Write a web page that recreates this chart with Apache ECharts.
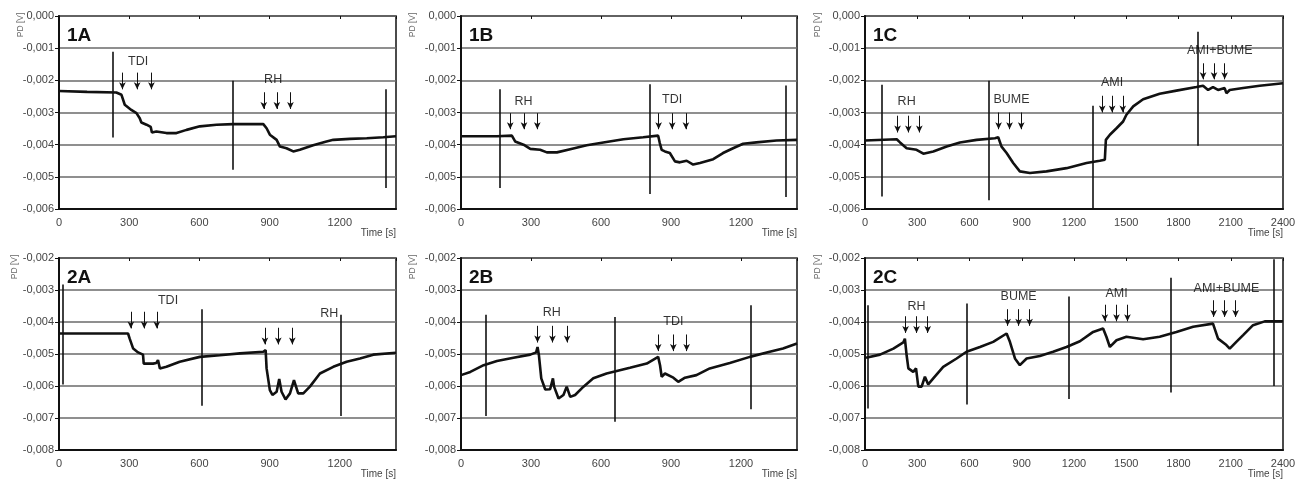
<!DOCTYPE html>
<html>
<head>
<meta charset="utf-8">
<script src="https://cdn.jsdelivr.net/npm/echarts@6/dist/echarts.min.js"></script>
<style>
html,body{margin:0;padding:0;background:#fff;}
#chart{width:1308px;height:482px;}
</style>
</head>
<body>
<div id="chart"></div>
<script>
// ---------- DATA ----------
// Panel 1A
const time1A = [0, 120, 245, 267, 281, 309, 331, 345, 352, 374, 392, 397, 402, 416, 459, 502, 545, 602, 673, 744, 800, 873, 887, 901, 930, 944, 972, 1001, 1029, 1086, 1143, 1172, 1243, 1315, 1386, 1440];
const pd1A = [-0.00233, -0.00236, -0.00238, -0.00245, -0.00276, -0.00292, -0.00302, -0.00318, -0.00331, -0.00338, -0.00345, -0.00362, -0.00358, -0.00359, -0.00364, -0.00364, -0.00354, -0.00343, -0.00338, -0.00336, -0.00336, -0.00336, -0.00349, -0.00369, -0.00385, -0.00406, -0.00411, -0.00421, -0.00416, -0.00402, -0.0039, -0.00385, -0.00382, -0.0038, -0.00377, -0.00374];
const spikes1A = [[228, -0.00111, -0.00378], [741, -0.00201, -0.00478], [1396, -0.00228, -0.00535]];
const events1A = [
  ['TDI', 338, -0.00142, [271, 334, 395], -0.00176, -0.00228],
  ['RH', 915, -0.00199, [875, 931, 989], -0.00237, -0.00289]
];

// Panel 1B
const time1B = [0, 154, 218, 232, 268, 297, 339, 368, 411, 468, 539, 610, 696, 781, 845, 852, 860, 874, 895, 917, 938, 967, 995, 1024, 1081, 1123, 1166, 1209, 1266, 1352, 1440];
const pd1B = [-0.00374, -0.00374, -0.00372, -0.0039, -0.004, -0.00413, -0.00416, -0.00424, -0.00424, -0.00414, -0.00402, -0.00393, -0.00383, -0.00377, -0.00372, -0.00395, -0.00416, -0.00421, -0.00426, -0.00452, -0.00455, -0.0045, -0.00462, -0.00457, -0.00445, -0.00426, -0.00411, -0.00397, -0.00393, -0.00387, -0.00385];
const spikes1B = [[164, -0.00228, -0.00535], [810, -0.00212, -0.00553], [1391, -0.00216, -0.00563]];
const events1B = [
  ['RH', 268, -0.00266, [211, 270, 327], -0.00302, -0.00352],
  ['TDI', 905, -0.00261, [847, 905, 964], -0.00302, -0.00352]
];

// Panel 1C
const time1C = [0, 182, 201, 239, 296, 335, 392, 469, 545, 641, 746, 765, 784, 813, 851, 889, 947, 1042, 1157, 1272, 1348, 1377, 1383, 1406, 1444, 1482, 1501, 1540, 1597, 1692, 1788, 1903, 1941, 1970, 1998, 2027, 2065, 2075, 2094, 2171, 2266, 2400];
const pd1C = [-0.00387, -0.00383, -0.00393, -0.00411, -0.00416, -0.00428, -0.00421, -0.00406, -0.00393, -0.00385, -0.0038, -0.00377, -0.00406, -0.00426, -0.00457, -0.00483, -0.00488, -0.00483, -0.00473, -0.00457, -0.0045, -0.00447, -0.00385, -0.00369, -0.00349, -0.00328, -0.00307, -0.00281, -0.00259, -0.00242, -0.00232, -0.00221, -0.00217, -0.0023, -0.00221, -0.0023, -0.00224, -0.0024, -0.0023, -0.00224, -0.00217, -0.00209];
const spikes1C = [[96, -0.00214, -0.00561], [711, -0.00201, -0.00573], [1310, -0.00279, -0.006], [1909, -0.00049, -0.00403]];
const events1C = [
  ['RH', 239, -0.00266, [187, 249, 312], -0.0031, -0.00362],
  ['BUME', 841, -0.00259, [767, 830, 897], -0.003, -0.00352],
  ['AMI', 1419, -0.00207, [1362, 1419, 1480], -0.00248, -0.003],
  ['AMI+BUME', 2037, -0.00106, [1941, 2004, 2065], -0.00147, -0.00197]
];

// Panel 2A
const time2A = [0, 295, 302, 317, 338, 359, 362, 402, 416, 423, 431, 459, 516, 602, 687, 773, 873, 883, 887, 901, 912, 930, 941, 951, 968, 987, 1004, 1022, 1044, 1072, 1115, 1172, 1229, 1286, 1343, 1440];
const pd2A = [-0.00436, -0.00436, -0.00452, -0.00483, -0.00495, -0.00502, -0.0053, -0.0053, -0.00528, -0.00519, -0.00545, -0.0054, -0.00524, -0.00509, -0.00504, -0.00498, -0.00493, -0.00488, -0.00545, -0.00613, -0.00628, -0.00618, -0.00578, -0.00618, -0.00642, -0.00623, -0.00582, -0.00623, -0.00623, -0.00602, -0.00561, -0.0054, -0.00524, -0.00514, -0.00502, -0.00496];
const spikes2A = [[14, -0.00283, -0.00595], [612, -0.0036, -0.00662], [1205, -0.00377, -0.00694]];
const events2A = [
  ['TDI', 466, -0.00332, [307, 364, 418], -0.00368, -0.0042],
  ['RH', 1155, -0.00374, [880, 937, 997], -0.00418, -0.0047]
];

// Panel 2B
const time2B = [0, 40, 97, 154, 225, 297, 322, 328, 334, 344, 361, 382, 394, 399, 418, 439, 453, 468, 489, 525, 567, 624, 724, 796, 845, 853, 860, 874, 910, 931, 960, 1009, 1066, 1152, 1238, 1323, 1380, 1440];
const pd2B = [-0.00566, -0.00556, -0.00535, -0.00522, -0.00512, -0.00502, -0.00495, -0.00478, -0.00504, -0.00576, -0.00611, -0.0061, -0.00576, -0.00602, -0.00639, -0.00628, -0.00602, -0.00634, -0.00628, -0.00602, -0.00576, -0.00561, -0.00543, -0.0053, -0.00509, -0.00535, -0.00571, -0.00561, -0.00574, -0.00587, -0.00574, -0.00566, -0.00545, -0.00528, -0.00509, -0.00493, -0.00483, -0.00467];
const spikes2B = [[108, -0.00377, -0.00694], [657, -0.00384, -0.00712], [1240, -0.00348, -0.00673]];
const events2B = [
  ['RH', 389, -0.0037, [328, 392, 455], -0.00412, -0.00464],
  ['TDI', 910, -0.00398, [845, 910, 967], -0.00439, -0.00491]
];

// Panel 2C
const time2C = [6, 86, 163, 220, 229, 239, 249, 277, 293, 306, 325, 344, 363, 392, 449, 526, 583, 660, 736, 813, 832, 861, 889, 928, 1004, 1080, 1157, 1234, 1310, 1367, 1386, 1406, 1444, 1501, 1597, 1692, 1788, 1884, 1998, 2027, 2075, 2094, 2132, 2171, 2228, 2295, 2400];
const pd2C = [-0.00512, -0.00502, -0.00483, -0.00464, -0.00452, -0.00504, -0.00545, -0.00556, -0.00545, -0.00602, -0.00602, -0.00571, -0.00595, -0.00576, -0.0054, -0.00514, -0.00493, -0.00478, -0.00462, -0.00436, -0.00462, -0.00514, -0.00535, -0.00514, -0.00506, -0.00493, -0.00478, -0.0046, -0.00431, -0.0042, -0.00446, -0.00478, -0.00457, -0.00446, -0.00454, -0.00446, -0.00431, -0.00415, -0.00405, -0.00452, -0.00472, -0.00483, -0.00462, -0.00441, -0.0041, -0.00398, -0.00398];
const spikes2C = [[13, -0.00348, -0.0067], [583, -0.00342, -0.00658], [1172, -0.0032, -0.00641], [1756, -0.00262, -0.0062], [2347, -0.00204, -0.006]];
const events2C = [
  ['RH', 296, -0.00351, [233, 296, 360], -0.00382, -0.00434],
  ['BUME', 882, -0.00322, [819, 882, 945], -0.0036, -0.00412],
  ['AMI', 1444, -0.00311, [1377, 1444, 1507], -0.00346, -0.00398],
  ['AMI+BUME', 2075, -0.00296, [2002, 2065, 2128], -0.00332, -0.00384]
];

const panelNames = ['1A', '1B', '1C', '2A', '2B', '2C'];
const xMaxes = [1440, 1440, 2400, 1440, 1440, 2400];
const yRanges = [[-0.006, 0], [-0.006, 0], [-0.006, 0], [-0.008, -0.002], [-0.008, -0.002], [-0.008, -0.002]];
const xTickStep = 300;
const yTickStep = 0.001;
const yAxisTitle = 'PD [V]';
const xAxisTitle = 'Time [s]';

// ---------- LAYOUT ----------
const times = [time1A, time1B, time1C, time2A, time2B, time2C];
const pds = [pd1A, pd1B, pd1C, pd2A, pd2B, pd2C];
const spikes = [spikes1A, spikes1B, spikes1C, spikes2A, spikes2B, spikes2C];
const events = [events1A, events1B, events1C, events2A, events2B, events2C];

const cols = [{left: 59, width: 337}, {left: 461, width: 336}, {left: 865, width: 418}];
const rows = [{top: 16, height: 193}, {top: 258, height: 192}];
const pdLabelX = [[21, 413, 818], [15, 413, 818]];

const SANS = '"Liberation Sans", Arial, Helvetica, sans-serif';

const grids = [], xAxes = [], yAxes = [], series = [], graphics = [];

function fmtY(v) {
  return v.toFixed(3).replace('.', ',');
}

for (let i = 0; i < 6; i++) {
  const r = rows[Math.floor(i / 3)], c = cols[i % 3];
  grids.push({left: c.left, top: r.top, width: c.width, height: r.height,
    show: true, borderColor: '#111', borderWidth: 1.5, containLabel: false});
  const xMax = xMaxes[i];
  xAxes.push({
    type: 'value', gridIndex: i, min: 0, max: xMax, interval: xTickStep,
    axisLine: {show: true, onZero: false, lineStyle: {color: '#111', width: 2}},
    axisTick: {show: false},
    splitLine: {show: false},
    axisLabel: {color: '#444', fontSize: 11, fontFamily: SANS, margin: 8,
      showMaxLabel: xMax % xTickStep === 0,
      formatter: v => (v % xTickStep === 0 ? String(v) : '')}
  });
  xAxes.push({
    type: 'value', gridIndex: i, position: 'top', min: 0, max: xMax, interval: xTickStep,
    axisLine: {show: false}, axisLabel: {show: false}, splitLine: {show: false},
    axisTick: {show: true, inside: true, length: 3, lineStyle: {color: '#111', width: 1}}
  });
  const [yMin, yMax] = yRanges[i];
  yAxes.push({
    type: 'value', gridIndex: i, min: yMin, max: yMax, interval: yTickStep,
    axisLine: {show: true, onZero: false, lineStyle: {color: '#111', width: 2}},
    axisTick: {show: true, length: 4, lineStyle: {color: '#111', width: 1}},
    splitLine: {show: true, lineStyle: {color: '#6a6a6a', width: 1.5}},
    axisLabel: {color: '#444', fontSize: 11, fontFamily: SANS, margin: 5, formatter: fmtY}
  });

  const data = times[i].map((t, k) => [t, pds[i][k]]);
  series.push({
    type: 'line', xAxisIndex: 2 * i, yAxisIndex: i, data: data, symbol: 'none',
    lineStyle: {color: '#111', width: 2.6}, z: 4, silent: true,
    markLine: {
      silent: true, symbol: ['none', 'none'], label: {show: false},
      lineStyle: {color: '#111', width: 1.6, type: 'solid'},
      data: spikes[i].map(s => [{coord: [s[0], s[1]]}, {coord: [s[0], s[2]]}])
    }
  });

  const arrowLines = [];
  const labels = [];
  events[i].forEach(ev => {
    const [name, lx, ly, xs, y0, y1] = ev;
    labels.push({name: name, value: [lx, ly]});
    xs.forEach(x => arrowLines.push([{coord: [x, y0]}, {coord: [x, y1]}]));
  });
  series.push({
    type: 'scatter', xAxisIndex: 2 * i, yAxisIndex: i, data: labels,
    symbolSize: 1, itemStyle: {color: 'rgba(0,0,0,0)'}, silent: true, z: 5,
    label: {show: true, position: 'inside', formatter: '{b}', color: '#000',
      fontSize: 12.5, fontFamily: SANS},
    markLine: {
      silent: true, symbol: ['none', 'arrow'], symbolSize: [5, 7], label: {show: false},
      lineStyle: {color: '#111', width: 1, type: 'solid'},
      data: arrowLines
    }
  });

  // panel tag
  graphics.push({type: 'text', left: c.left + 8, top: r.top + 10,
    style: {text: panelNames[i], font: 'bold 19px ' + SANS, fill: '#111'}});
  // y axis title
  graphics.push({type: 'text', x: pdLabelX[Math.floor(i / 3)][i % 3], y: r.top + 9, rotation: Math.PI / 2,
    style: {text: yAxisTitle, font: '8.5px ' + SANS, fill: '#666', align: 'center', verticalAlign: 'middle'}});
  // x axis title
  graphics.push({type: 'text', x: c.left + c.width, y: r.top + r.height + 24,
    style: {text: xAxisTitle, font: '10px ' + SANS, fill: '#444', align: 'right', verticalAlign: 'middle'}});
}

const chart = echarts.init(document.getElementById('chart'), null, {renderer: 'canvas'});
chart.setOption({
  animation: false,
  backgroundColor: '#fff',
  grid: grids, xAxis: xAxes, yAxis: yAxes, series: series, graphic: graphics
});
</script>
</body>
</html>
